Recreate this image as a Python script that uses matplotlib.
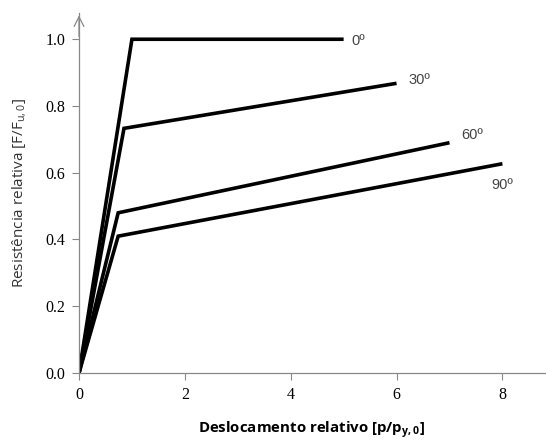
import matplotlib.pyplot as plt

plt.rcParams["mathtext.fontset"] = "custom"
plt.rcParams["mathtext.rm"] = "Open Sans"
plt.rcParams["mathtext.bf"] = "Open Sans:bold"

# curvas bilineares de resistencia vs deslocamento, por angulo
angulos = ["0º", "30º", "60º", "90º"]
desloc = [[0, 1.0, 5.0], [0, 0.85, 6.0], [0, 0.74, 7.0], [0, 0.74, 8.0]]
resist = [[0, 1.0, 1.0], [0, 0.733, 0.868], [0, 0.48, 0.69], [0, 0.41, 0.627]]
pos_rotulo = [(5.27, 0.995), (6.43, 0.877), (7.42, 0.713), (8.0, 0.563)]

fig = plt.figure(figsize=(5.46, 4.45), dpi=100)
ax = fig.add_axes([0.1447, 0.1618, 0.853, 0.81])

for x, y in zip(desloc, resist):
    ax.plot(x, y, color="black", lw=2.6, solid_capstyle="butt", solid_joinstyle="miter")

for nome, (px, py) in zip(angulos, pos_rotulo):
    ax.text(px, py, nome, fontsize=10.5, color="#444444", family="Liberation Sans",
            va="center", ha="center")

ax.set_xlim(0, 8.8)
ax.set_ylim(0, 1.08)
ax.set_xticks([0, 2, 4, 6, 8])
ax.set_yticks([0, 0.2, 0.4, 0.6, 0.8, 1.0])
ax.set_yticklabels(["0.0", "0.2", "0.4", "0.6", "0.8", "1.0"])
ax.tick_params(labelsize=11.5, colors="#888888", length=5, width=0.8, pad=5)
for lab in ax.get_xticklabels() + ax.get_yticklabels():
    lab.set_family("Liberation Serif")
    lab.set_color("black")

for s in ["top", "right"]:
    ax.spines[s].set_visible(False)
for s in ["left", "bottom"]:
    ax.spines[s].set_color("#888888")
    ax.spines[s].set_linewidth(0.9)

# seta aberta no topo do eixo y
ax.annotate("", xy=(0, 1.08), xytext=(0, 1.0), xycoords="data",
            arrowprops=dict(arrowstyle="->,head_length=0.7,head_width=0.35",
                            color="#888888", lw=0.9),
            annotation_clip=False)

ax.set_xlabel("Deslocamento relativo [p/p$_{\\mathbf{y,0}}$]", fontsize=10.8,
              fontweight="bold", family="Open Sans", labelpad=12)
ax.set_ylabel("Resistência relativa [F/F$_{\\mathrm{u,0}}$]", fontsize=11,
              family="Open Sans", color="#333333", labelpad=12)

fig.savefig("out.png", dpi=100)
